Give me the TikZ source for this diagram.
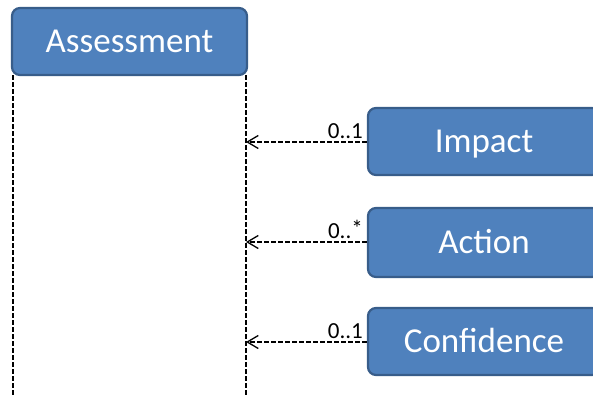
\documentclass[tikz,border=0pt]{standalone}
\usepackage{fontspec}
\setmainfont{Carlito}
\usetikzlibrary{arrows.meta}
\definecolor{boxfill}{HTML}{4F81BD}
\definecolor{boxline}{HTML}{385D8A}
\begin{document}
\begin{tikzpicture}[x=1pt,y=-1pt,
  classbox/.style={draw=boxline,line width=2.2pt,fill=boxfill,rounded corners=8pt,
    text=white,font=\fontsize{35}{38}\selectfont,inner sep=0pt,
    text height=22.5pt,text depth=0pt},
  lifeline/.style={line width=1.3pt,dash pattern=on 4.5pt off 2.5pt},
  link/.style={line width=1.3pt,dash pattern=on 4.5pt off 2.5pt,
    -{Straight Barb[length=11pt,width=13pt,line width=1.3pt]}},
  mult/.style={font=\fontsize{23}{24}\selectfont,anchor=base east,inner sep=0pt}]
\useasboundingbox (0,0) rectangle (593,396);
\begin{scope}
\clip (0,0) rectangle (593,396);
% Assessment class with its lifeline
\coordinate (l1top) at (13,75);
\coordinate (l1bot) at (13,396);
\coordinate (l2top) at (246,75);
\coordinate (l2bot) at (246,396);
\draw[lifeline] (l1top) -- (l1bot);
\draw[lifeline] (l2top) -- (l2bot);
\node[classbox,minimum width=235pt,minimum height=67pt] (ass) at (129.5,41.5) {Assessment};
% associated classes
\node[classbox,minimum width=232pt,minimum height=67pt] (imp) at (484,141.5) {Impact};
\node[classbox,minimum width=232pt,minimum height=69pt] (act) at (484,242.5) {Action};
\node[classbox,minimum width=232pt,minimum height=67pt] (con) at (484,341.5) {Confidence};
\coordinate (timp) at (246,142);
\coordinate (tact) at (246,242);
\coordinate (tcon) at (246,342);
\draw[link] (imp.west |- timp) -- (timp);
\draw[link] (act.west |- tact) -- (tact);
\draw[link] (con.west |- tcon) -- (tcon);
% multiplicities
\node[mult] (m1) at (363,138) {0..1};
\node[mult] (m2) at (363,238) {0..\raisebox{2pt}{*}};
\node[mult] (m3) at (363,338) {0..1};
\end{scope}
\end{tikzpicture}
\end{document}
